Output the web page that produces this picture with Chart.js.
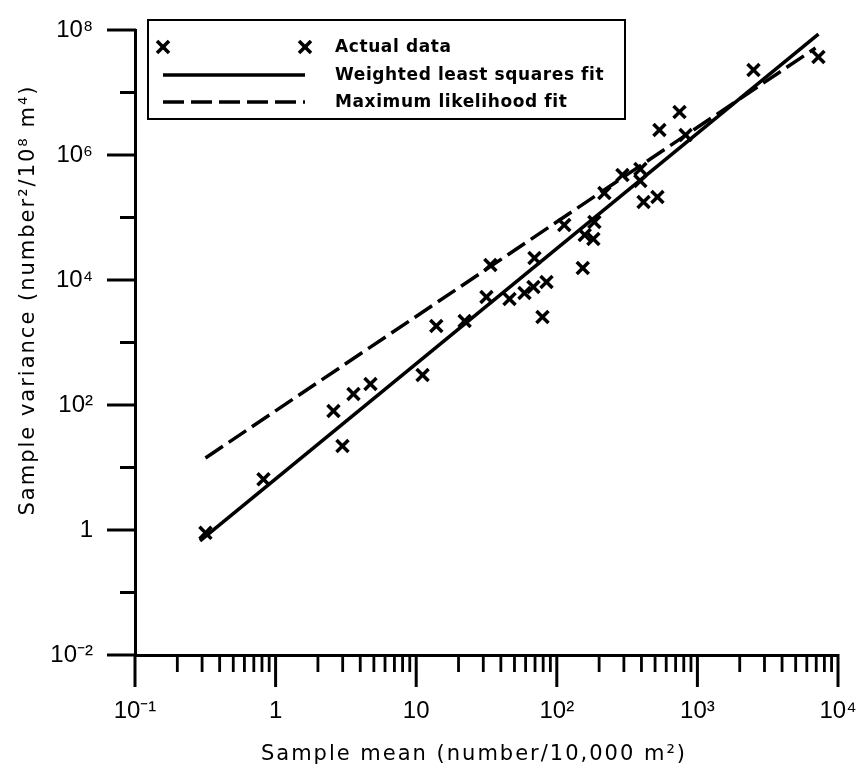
<!DOCTYPE html>
<html><head><meta charset="utf-8">
<script src="https://cdn.jsdelivr.net/npm/chart.js@4"></script>
<style>html,body{margin:0;padding:0;background:#fff}canvas{display:block}</style>
</head><body>
<canvas id="c" width="858" height="770"></canvas>
<script>
// ---- data ----
const sampleMean = [0.317, 0.82, 2.58, 2.99, 3.58, 4.73, 11.1, 13.9, 22.1, 33.7, 31.6, 46.1, 58.9, 68.2, 84.5, 79.1, 69.4, 113, 153, 158, 182, 185, 218, 293, 393, 393, 414, 520, 537, 746, 824, 2506, 7260];
const sampleVariance = [0.90, 6.5, 80, 22, 150, 217, 302, 1840, 2210, 17400, 5350, 4970, 6190, 7730, 9290, 2560, 22500, 75900, 15600, 52500, 45300, 84700, 247000, 479000, 597000, 384000, 177000, 213000, 2510000, 4880000, 2090000, 22900000, 37000000];
const wlsFitX = [0.29, 7260];
const wlsFitY = [0.67, 8.6e7];
const mlFitX = [0.317, 6920];
const mlFitY = [14.2, 5.15e7];
const seriesLabels = ['Actual data', 'Weighted least squares fit', 'Maximum likelihood fit'];
const xTickValues = [0.1, 1, 10, 100, 1000, 10000];
const xTickLabels = ['10⁻¹', '1', '10', '10²', '10³', '10⁴'];
const yTickValues = [1e-2, 1, 1e2, 1e4, 1e6, 1e8];
const yTickLabels = ['10⁻²', '1', '10²', '10⁴', '10⁶', '10⁸'];
const yMinorTickValues = [1e-1, 10, 1e3, 1e5, 1e7];
const xMinorMultipliers = [2, 3, 4, 5, 6, 7, 8, 9];
const xTitle = 'Sample mean (number/10,000 m²)';
const yTitle = 'Sample variance (number²/10⁸ m⁴)';

function seg(ctx, x1, y1, x2, y2) { ctx.beginPath(); ctx.moveTo(x1, y1); ctx.lineTo(x2, y2); ctx.stroke(); }
function cross(ctx, x, y, r) { const d = r * Math.SQRT1_2; seg(ctx, x - d, y - d, x + d, y + d); seg(ctx, x - d, y + d, x + d, y - d); }

const decor = {
  id: 'decor',
  afterDraw(chart) {
    const ctx = chart.ctx, xs = chart.scales.x, ys = chart.scales.y, a = chart.chartArea;
    ctx.save();
    ctx.strokeStyle = '#000'; ctx.fillStyle = '#000'; ctx.lineCap = 'butt';
    ctx.lineWidth = 3;
    yTickValues.forEach(v => { const p = ys.getPixelForValue(v); seg(ctx, a.left - 28, p, a.left + 1, p); });
    yMinorTickValues.forEach(v => { const p = ys.getPixelForValue(v); seg(ctx, a.left - 15, p, a.left + 1, p); });
    xTickValues.forEach(v => { const p = xs.getPixelForValue(v); seg(ctx, p, a.bottom - 1, p, a.bottom + 32); });
    ctx.lineWidth = 2.8;
    xTickValues.slice(0, -1).forEach(d => xMinorMultipliers.forEach(m => {
      const p = xs.getPixelForValue(d * m); seg(ctx, p, a.bottom, p, a.bottom + 17);
    }));
    // axis titles
    ctx.font = '21px "DejaVu Sans"';
    ctx.letterSpacing = '2px';
    ctx.textAlign = 'center'; ctx.textBaseline = 'alphabetic';
    ctx.fillText(xTitle, 474, 760);
    ctx.save();
    ctx.translate(34, 300); ctx.rotate(-Math.PI / 2);
    ctx.fillText(yTitle, 0, 0);
    ctx.restore();
    // legend
    const lx = 148, ly = 20, lw = 477, lh = 99;
    ctx.lineWidth = 2;
    ctx.strokeRect(lx, ly, lw, lh);
    const rows = [47, 75, 102], s0 = 163, s1 = 305;
    ctx.lineWidth = 3.5;
    cross(ctx, s0, rows[0], 8.5); cross(ctx, s1, rows[0], 8.5);
    seg(ctx, s0, rows[1], s1, rows[1]);
    ctx.setLineDash([21, 7]); seg(ctx, s0, rows[2], s1, rows[2]); ctx.setLineDash([]);
    ctx.font = 'bold 17px "DejaVu Sans"';
    ctx.letterSpacing = '0.6px';
    ctx.textAlign = 'left'; ctx.textBaseline = 'middle';
    chart.data.datasets.forEach((ds, i) => ctx.fillText(ds.label, 335, rows[i] + 1));
    ctx.restore();
  }
};

new Chart(document.getElementById('c'), {
  type: 'scatter',
  data: {
    datasets: [
      { label: seriesLabels[0], data: sampleMean.map((x, i) => ({ x, y: sampleVariance[i] })),
        showLine: false, pointStyle: 'crossRot', pointRadius: 8.5, pointBorderWidth: 3.5,
        borderColor: '#000', backgroundColor: '#000' },
      { label: seriesLabels[1], data: wlsFitX.map((x, i) => ({ x, y: wlsFitY[i] })),
        showLine: true, pointRadius: 0, borderColor: '#000', borderWidth: 3.5 },
      { label: seriesLabels[2], data: mlFitX.map((x, i) => ({ x, y: mlFitY[i] })),
        showLine: true, pointRadius: 0, borderColor: '#000', borderWidth: 3.5, borderDash: [21, 7] }
    ]
  },
  options: {
    responsive: false, animation: false, devicePixelRatio: 1,
    layout: { padding: { top: 30, right: 20, left: 0, bottom: 0 } },
    plugins: { legend: { display: false }, tooltip: { enabled: false } },
    scales: {
      x: {
        type: 'logarithmic', position: 'bottom', min: 0.1, max: 10000,
        grid: { display: false, drawTicks: false, tickLength: 0 },
        border: { display: true, color: '#000', width: 3 },
        afterBuildTicks: s => { s.ticks = xTickValues.map(v => ({ value: v })); },
        afterFit: s => { s.height = 115; s.paddingLeft = 0; s.paddingRight = 0; },
        ticks: { autoSkip: false, maxRotation: 0, padding: 42, color: '#000',
          font: { family: '"Liberation Sans", Arial', size: 24 },
          callback: (v, i) => xTickLabels[i] }
      },
      y: {
        type: 'logarithmic', position: 'left', min: 1e-2, max: 1e8,
        grid: { display: false, drawTicks: false, tickLength: 0 },
        border: { display: true, color: '#000', width: 3 },
        afterBuildTicks: s => { s.ticks = yTickValues.map(v => ({ value: v })); },
        afterFit: s => { s.width = 135; s.paddingTop = 0; s.paddingBottom = 0; },
        ticks: { autoSkip: false, padding: 42, color: '#000',
          font: { family: '"Liberation Sans", Arial', size: 24 },
          callback: (v, i) => yTickLabels[i] }
      }
    }
  },
  plugins: [decor]
});
</script>
</body></html>
